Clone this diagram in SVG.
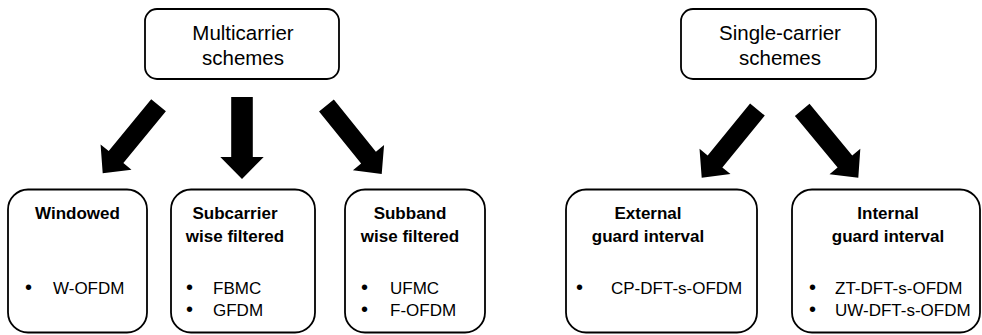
<svg xmlns="http://www.w3.org/2000/svg" width="982" height="335" viewBox="0 0 982 335">
  <style>
    .box { fill: #ffffff; stroke: #000000; stroke-width: 1.8; }
    .head { font-family: "Liberation Sans", Arial, sans-serif; font-size: 20.5px; fill: #000; text-anchor: middle; }
    .title { font-family: "Liberation Sans", Arial, sans-serif; font-size: 17px; font-weight: bold; fill: #000; text-anchor: middle; }
    .item { font-family: "Liberation Sans", Arial, sans-serif; font-size: 17px; fill: #000; }
    .dot { font-family: "Liberation Sans", Arial, sans-serif; font-size: 20px; fill: #000; }
    .arrow { fill: #000000; }
  </style>
  <defs>
    <!-- block arrow, tip at origin pointing down -->
    <path id="diagArrow" d="M -9.5,-88 L 9.5,-88 L 9.5,-21 L 20,-21 L 0,0 L -20,-21 L -9.5,-21 Z"/>
    <path id="downArrow" d="M -10.8,-82 L 10.8,-82 L 10.8,-22 L 21.7,-22 L 0,0 L -21.7,-22 L -10.8,-22 Z"/>
  </defs>

  <g id="multicarrier">
    <rect class="box" x="145" y="9" width="194" height="70" rx="12"/>
    <text class="head" x="243" y="40">Multicarrier</text>
    <text class="head" x="243" y="65">schemes</text>
  </g>

  <g id="singlecarrier">
    <rect class="box" x="681" y="9" width="195" height="70" rx="12"/>
    <text class="head" x="780" y="40">Single-carrier</text>
    <text class="head" x="780" y="65">schemes</text>
  </g>

  <g id="windowed">
    <rect class="box" x="8" y="189.5" width="139" height="143" rx="20"/>
    <text class="title" x="77.5" y="219">Windowed</text>
    <text class="dot" x="25" y="294">•</text>
    <text class="item" x="53" y="294">W-OFDM</text>
  </g>

  <g id="subcarrier">
    <rect class="box" x="171" y="189.5" width="144" height="143" rx="20"/>
    <text class="title" x="235" y="219">Subcarrier</text>
    <text class="title" x="235" y="242">wise filtered</text>
    <text class="dot" x="186" y="294">•</text>
    <text class="item" x="213" y="294">FBMC</text>
    <text class="dot" x="186" y="316">•</text>
    <text class="item" x="213" y="316">GFDM</text>
  </g>

  <g id="subband">
    <rect class="box" x="345" y="189.5" width="140" height="143" rx="20"/>
    <text class="title" x="410" y="219">Subband</text>
    <text class="title" x="410" y="242">wise filtered</text>
    <text class="dot" x="361" y="294">•</text>
    <text class="item" x="390" y="294">UFMC</text>
    <text class="dot" x="361" y="316">•</text>
    <text class="item" x="390" y="316">F-OFDM</text>
  </g>

  <g id="external">
    <rect class="box" x="566" y="189.5" width="191" height="143" rx="20"/>
    <text class="title" x="648" y="219">External</text>
    <text class="title" x="648" y="242">guard interval</text>
    <text class="dot" x="576" y="294">•</text>
    <text class="item" x="611" y="294">CP-DFT-s-OFDM</text>
  </g>

  <g id="internal">
    <rect class="box" x="792" y="189.5" width="188" height="143" rx="20"/>
    <text class="title" x="888" y="219">Internal</text>
    <text class="title" x="888" y="242">guard interval</text>
    <text class="dot" x="809" y="294">•</text>
    <text class="item" x="835" y="294">ZT-DFT-s-OFDM</text>
    <text class="dot" x="809" y="316">•</text>
    <text class="item" x="835" y="316">UW-DFT-s-OFDM</text>
  </g>

  <g id="connectors" class="arrow">
    <use href="#diagArrow" transform="translate(102.7,173.3) rotate(39.4)"/>
    <use href="#downArrow" transform="translate(242,179)"/>
    <use href="#diagArrow" transform="translate(381.7,174) rotate(-38.9)"/>
    <use href="#diagArrow" transform="translate(701.7,177.7) rotate(39.3)"/>
    <use href="#diagArrow" transform="translate(858.3,177.7) rotate(-39.6)"/>
  </g>
</svg>
